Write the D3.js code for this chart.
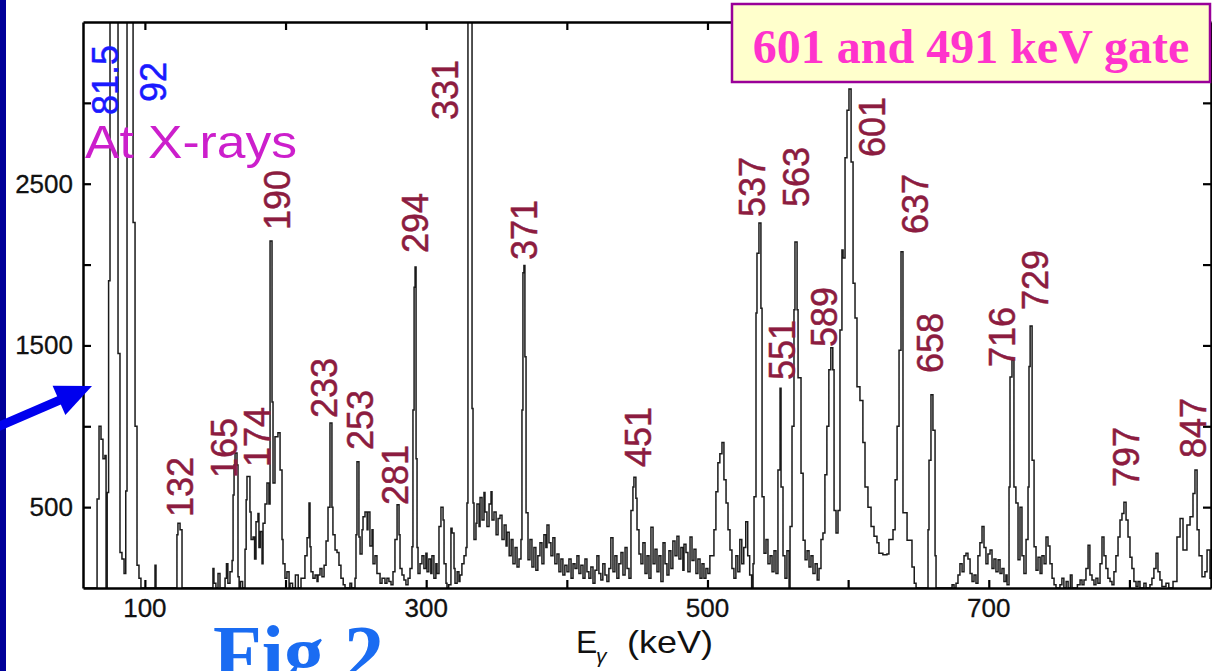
<!DOCTYPE html>
<html>
<head>
<meta charset="utf-8">
<script src="https://cdn.jsdelivr.net/npm/d3@7/dist/d3.min.js"></script>
<style>
  body { margin: 0; background: #fff; }
  svg { display: block; }
</style>
</head>
<body>
<svg></svg>
<script>
// gated gamma spectrum as [energy keV, counts] step points
var spectrum = [
  [56,0],[66,550],[67.4,1000],[68.8,920],[70.2,800],[71.6,820],[72.4,0],[73.2,590],[74.2,1900],
  [75.2,5200],[80.9,1450],[82.3,220],[83.7,180],[85.2,90],[86.4,600],[87.3,4800],[91.6,2260],
  [93.0,1000],[94.4,140],[95.8,60],[97.2,0],[107.2,140],[107.9,0],[122.8,330],[123.5,400],
  [125.0,360],[126.4,0],[148.4,120],[149.1,30],[150.5,0],[152.0,90],[153.4,0],[157,60],[158,150],
  [159,30],[160.5,100],[162,170],[162.7,575],[163.4,760],[164.1,835],[165.5,760],[166.2,70],
  [167,0],[168,40],[169.5,0],[171.2,240],[172,545],[172.6,690],[174.7,470],[175.5,300],
  [176.9,315],[178,180],[179,410],[180.4,460],[181.1,250],[182,350],[183.3,150],[184,400],
  [185.4,520],[186.8,650],[188.2,520],[189.0,2145],[190.4,1150],[191.1,650],[192.5,935],
  [194.6,960],[196.1,730],[197.5,300],[198.2,150],[199.6,60],[201,100],[202.5,0],[203.2,30],
  [205,0],[207,80],[209,0],[211,60],[213.8,200],[215.3,310],[216.7,525],[217.4,255],[218.1,100],
  [219.5,60],[221,80],[222.4,40],[223.1,80],[224.5,120],[225.9,70],[227.4,140],[228.8,290],
  [230.2,500],[231.6,1020],[233.0,500],[233.7,330],[235.2,235],[236.6,220],[238,140],[239.4,60],
  [241,20],[242.3,0],[245.8,30],[247,0],[249.4,60],[250.1,330],[250.8,780],[252.2,315],
  [253.0,210],[254.4,360],[255.1,440],[256.5,470],[258.0,360],[258.6,470],[260,260],[261.5,360],
  [262.2,150],[263.6,200],[265,90],[267.2,30],[268.6,60],[270.7,30],[272.1,60],[273.5,40],
  [275,20],[276.4,100],[277.8,300],[279.3,515],[280.7,330],[281.4,120],[282.8,80],[284.2,50],
  [285.6,20],[287.1,60],[288.5,120],[289.9,255],[290.6,1100],[291.4,1860],[292.1,1985],
  [292.8,800],[293.5,250],[294.2,90],[295.6,150],[297.0,200],[298.4,120],[299.8,215],[300.6,100],
  [301.9,180],[303.3,90],[304.1,200],[305.5,60],[306.9,150],[307.7,90],[309.1,380],[310.5,500],
  [312.0,420],[312.7,150],[314.1,30],[314.8,0],[316,20],[317.6,370],[318.4,340],[319.8,120],
  [320.5,30],[322,100],[323.3,40],[324,80],[325.4,150],[326.9,200],[328.3,250],[329.0,525],
  [329.7,6000],[332.6,1110],[333.3,525],[334,300],[335.4,400],[336.1,520],[337.6,380],
  [338.3,560],[339.7,420],[341.1,590],[341.8,470],[343.2,380],[344.7,520],[346.1,595],
  [346.8,420],[348.2,470],[349.7,330],[351.1,430],[352.5,450],[353.9,300],[355.4,390],
  [356.8,260],[357.5,345],[359,200],[360.4,300],[361.7,150],[363.2,250],[364.6,130],[366,180],
  [367.4,300],[368.1,1100],[368.8,1950],[369.5,1995],[370.2,1430],[371,465],[372.4,175],
  [373.8,300],[375.2,130],[376.6,250],[378,110],[379.4,200],[380.9,280],[382.3,150],[383.7,330],
  [385.1,250],[385.9,390],[387.3,280],[388.7,200],[390.1,310],[391.5,150],[393.0,210],
  [394.4,100],[395.8,180],[397.2,80],[398.6,140],[400.1,100],[401.5,180],[403,60],[404.4,150],
  [405.8,120],[407.2,200],[408.6,90],[410,140],[411.5,60],[412.9,180],[414.3,100],[415.7,60],
  [417.1,130],[418.6,30],[420,110],[421.4,200],[422.8,90],[424.2,50],[425.6,150],[427.1,80],
  [428.5,40],[429.9,120],[431.3,310],[432.8,100],[434.2,200],[435.6,60],[437,150],[438.5,220],
  [439.9,80],[441.4,250],[442.8,120],[444.2,60],[445.6,480],[447.0,625],[447.7,685],[449.1,555],
  [449.9,360],[451.3,210],[452.7,150],[454.1,280],[455.6,90],[457,200],[458.4,60],[459.8,375],
  [461.3,150],[462.7,240],[464.1,100],[465.5,200],[466.9,40],[468.4,280],[469.8,150],[471.2,80],
  [472.6,230],[474,120],[475.4,290],[476.9,200],[478.3,320],[479.7,180],[481.1,250],[482.5,110],
  [483.3,270],[484.7,220],[486.1,100],[487.6,315],[489,170],[490.4,240],[491.8,90],[493.2,180],
  [494.7,60],[496.1,150],[497.5,60],[498.9,120],[500.3,90],[501.7,200],[503.2,200],[504.6,360],
  [506,595],[507.4,775],[508.8,830],[510.3,900],[511.7,670],[513.2,525],[514.6,360],[516,235],
  [517.4,120],[518.8,60],[520.2,200],[521.6,100],[523,300],[524.4,150],[525.8,250],[527.2,410],
  [528.6,200],[530,80],[531.4,0],[532.4,150],[533.1,565],[534.5,1700],[535.2,2070],[536.6,2257],
  [538.0,1730],[538.8,565],[540.2,215],[541.6,300],[543,150],[544.5,200],[545.9,100],[547.3,230],
  [548.7,90],[550.1,730],[551.6,1235],[552.3,625],[553.7,200],[555.1,60],[556.5,230],[558,0],
  [558.7,380],[560.1,1000],[561.5,1720],[562.2,2140],[563.7,1720],[564.4,1300],[566.5,710],
  [568,295],[569.4,175],[570.8,230],[572.2,130],[573.6,200],[575,90],[576.5,150],[578,50],
  [579.3,120],[580.7,300],[582.1,340],[583.5,700],[584.9,1000],[586.3,1350],[587.7,1485],
  [589.1,1350],[590,480],[591.4,340],[592.8,480],[594.2,1595],[595.6,2090],[596.4,2040],
  [597.8,2660],[599.2,2955],[600.6,3085],[602.1,2635],[603.5,1885],[604.9,1670],[606.3,1245],
  [608.4,1160],[610.5,900],[612,625],[614.1,500],[616.3,380],[618.4,320],[620.5,280],[621.9,215],
  [624.7,205],[627.6,210],[629,300],[631.9,360],[633.4,670],[634.8,1000],[636.2,1470],
  [637.6,2080],[639.0,465],[641.9,295],[645.4,130],[647,30],[648.3,0],[656.8,360],[657.5,790],
  [658.9,1195],[660.3,975],[661.8,200],[662.5,0],[673.9,20],[675.3,0],[676.7,30],[678.1,80],
  [679.5,150],[681,100],[682.4,200],[683.8,215],[685.2,180],[686.7,90],[688.1,40],[689.5,80],
  [690.9,30],[692.3,200],[693.7,280],[695.2,380],[696.6,250],[698,150],[699.4,210],[700.9,235],
  [702.3,120],[703.7,180],[705.1,100],[706.6,175],[708,90],[709.4,120],[710.8,40],[712.2,80],
  [713.0,20],[714.4,625],[715.1,1305],[716.5,1410],[717.9,625],[719.3,525],[720.8,175],
  [722.2,500],[723.6,200],[725,90],[726.5,300],[727.9,625],[728.6,1370],[729.4,1620],[730.8,790],
  [732.2,255],[733.6,110],[735,190],[736.5,90],[737.8,200],[739.3,150],[740.7,315],[742.1,260],
  [743.5,150],[745,60],[746.4,20],[747.8,0],[750.6,20],[752,60],[753.4,0],[755,40],[756.4,0],
  [758,80],[759.2,0],[763,20],[764.9,50],[766.3,20],[767.7,50],[769.1,120],[770.6,265],
  [771.9,80],[773.4,50],[774.8,20],[776.2,60],[777.6,30],[779.1,150],[780.5,315],[781.9,200],
  [783.3,120],[784.7,60],[786.2,40],[787.6,20],[789,100],[790.4,200],[791.9,315],[793.3,420],
  [794.7,460],[796.1,530],[797.6,420],[799,315],[800.4,190],[801.8,120],[803.2,40],[804.7,10],
  [806.1,40],[807.5,0],[810.3,30],[811.8,0],[814.6,20],[816,60],[817.4,120],[818.9,215],
  [820.3,100],[821.7,50],[823.1,10],[826,30],[828,0],[831,40],[833.8,315],[836,430],[838.1,235],
  [840.9,390],[843.1,440],[845.2,585],[846.6,730],[848.1,360],[849.5,200],[851.6,70],
  [853.7,100],[855.2,235],[857.3,60],[858,60]
];

var xTickValues = [100, 200, 300, 400, 500, 600, 700, 800];
var xTickLabels = [100, 300, 500, 700];
var yTickValues = [500, 1000, 1500, 2000, 2500, 3000];
var yTickLabels = [500, 1500, 2500];

// peak labels: text, anchor energy, anchor counts (bottom of rotated text)
var peakNames  = ["81.5","92","132","165","174","190","233","253","281","294","331","371",
                  "451","537","551","563","589","601","637","658","716","729","797","847"];
var peakAnchorE = [80.9,115.0,134.2,165.5,189.0,203.2,236.6,262.2,287.1,301.3,322.6,378.8,
                   459.8,540.9,562.2,572.2,592.1,626.2,656.8,667.5,718.7,742.1,806.8,854.8];
var peakAnchorC = [2925,3005,439,680,748,2214,1051,853,513,2072,2894,2028,
                   748,2294,1286,2356,1490,2665,2189,1330,1367,1719,625,804];
var xrayNames = ["81.5", "92"];

var W = 1212, H = 671;
var svg = d3.select("svg").attr("width", W).attr("height", H);

var plot = {left: 83, right: 1211, top: 22, bottom: 588};

var x = d3.scaleLinear().domain([56, 858]).range([plot.left, plot.right]);
var y = d3.scaleLinear().domain([0, 3500]).range([plot.bottom, plot.top]);

svg.append("rect").attr("width", W).attr("height", H).attr("fill", "#fff");

// slide strip on the left
svg.append("rect").attr("x", 0).attr("y", 0).attr("width", 6).attr("height", H).attr("fill", "#000099");

svg.append("clipPath").attr("id", "plotclip")
  .append("rect")
  .attr("x", plot.left).attr("y", plot.top)
  .attr("width", plot.right - plot.left).attr("height", plot.bottom - plot.top);

var line = d3.line()
  .x(d => x(d[0]))
  .y(d => y(d[1]))
  .curve(d3.curveStepAfter);

svg.append("path")
  .datum(spectrum)
  .attr("clip-path", "url(#plotclip)")
  .attr("d", line)
  .attr("fill", "none")
  .attr("stroke", "#1a1a1a")
  .attr("stroke-width", 1.5);

// axes, ticks inward
var tickLen = 8;
var axisFont = "'Liberation Sans', Arial, sans-serif";

svg.append("g")
  .attr("transform", "translate(0," + plot.bottom + ")")
  .call(d3.axisBottom(x).tickValues(xTickValues).tickSizeInner(-tickLen).tickSizeOuter(0).tickFormat(""))
  .call(g => g.select(".domain").attr("stroke", "#000").attr("stroke-width", 2.5));

svg.append("g")
  .attr("transform", "translate(0," + plot.top + ")")
  .call(d3.axisTop(x).tickValues(xTickValues).tickSizeInner(-tickLen).tickSizeOuter(0).tickFormat(""))
  .call(g => g.select(".domain").attr("stroke", "#000").attr("stroke-width", 2.5));

svg.append("g")
  .attr("transform", "translate(" + plot.left + ",0)")
  .call(d3.axisLeft(y).tickValues(yTickValues).tickSizeInner(-tickLen).tickSizeOuter(0).tickFormat(""))
  .call(g => g.select(".domain").attr("stroke", "#000").attr("stroke-width", 2.5));

svg.append("g")
  .attr("transform", "translate(" + plot.right + ",0)")
  .call(d3.axisRight(y).tickValues(yTickValues).tickSizeInner(-tickLen).tickSizeOuter(0).tickFormat(""))
  .call(g => g.select(".domain").attr("stroke", "#000").attr("stroke-width", 2.5));

svg.selectAll(".tick line").attr("stroke", "#000").attr("stroke-width", 2.2);

svg.selectAll(".xlab")
  .data(xTickLabels)
  .enter().append("text")
  .attr("class", "xlab")
  .attr("x", d => x(d))
  .attr("y", 617)
  .attr("text-anchor", "middle")
  .attr("font-family", axisFont)
  .attr("font-size", 26)
  .attr("fill", "#111")
  .attr("stroke", "#111")
  .attr("stroke-width", 0.3)
  .text(d => d);

svg.selectAll(".ylab")
  .data(yTickLabels)
  .enter().append("text")
  .attr("class", "ylab")
  .attr("x", 73)
  .attr("y", d => y(d) + 9)
  .attr("text-anchor", "end")
  .attr("font-family", axisFont)
  .attr("font-size", 26)
  .attr("fill", "#111")
  .attr("stroke", "#111")
  .attr("stroke-width", 0.3)
  .text(d => d);

// axis title E_gamma (keV)
var title = svg.append("text")
  .attr("font-family", axisFont)
  .attr("fill", "#111");
title.append("tspan").attr("x", 576).attr("y", 653).attr("font-size", 32).text("E");
title.append("tspan").attr("x", 596).attr("y", 663).attr("font-size", 21).attr("font-style", "italic").text("γ");
title.append("tspan").attr("x", 627).attr("y", 653).attr("font-size", 32)
  .attr("textLength", 86).attr("lengthAdjust", "spacingAndGlyphs").text("(keV)");

// peak labels, rotated
svg.selectAll(".peak")
  .data(peakNames)
  .enter().append("text")
  .attr("class", "peak")
  .attr("transform", (d, i) => "translate(" + x(peakAnchorE[i]) + "," + y(peakAnchorC[i]) + ") rotate(-90)")
  .attr("font-family", axisFont)
  .attr("font-size", 36)
  .attr("fill", d => xrayNames.indexOf(d) >= 0 ? "#1a1aff" : "#8c1c40")
  .attr("stroke", d => xrayNames.indexOf(d) >= 0 ? "#1a1aff" : "#8c1c40")
  .attr("stroke-width", 0.5)
  .text(d => d);

svg.append("text")
  .attr("x", 85)
  .attr("y", 158)
  .attr("font-family", axisFont)
  .attr("font-size", 46)
  .attr("textLength", 212)
  .attr("lengthAdjust", "spacingAndGlyphs")
  .attr("fill", "#cc1fcc")
  .text("At X-rays");

// gate box
svg.append("rect")
  .attr("x", 732).attr("y", 4)
  .attr("width", 478).attr("height", 78)
  .attr("fill", "#ffffcc")
  .attr("stroke", "#990099")
  .attr("stroke-width", 2.5);

svg.append("text")
  .attr("x", 971)
  .attr("y", 63)
  .attr("text-anchor", "middle")
  .attr("font-family", "'Liberation Serif', 'Times New Roman', serif")
  .attr("font-weight", "bold")
  .attr("font-size", 48)
  .attr("fill", "#ff33cc")
  .text("601 and 491 keV gate");

// arrow pointing at the axis
var tail = [0, 426], tip = [92, 386];
var dx = tip[0] - tail[0], dy = tip[1] - tail[1];
var len = Math.sqrt(dx * dx + dy * dy);
var ux = dx / len, uy = dy / len;
var headL = 36, headW = 16;
var bx = tip[0] - ux * headL, by = tip[1] - uy * headL;

svg.append("line")
  .attr("x1", tail[0] - 5).attr("y1", tail[1] + 2)
  .attr("x2", bx + ux * 2).attr("y2", by + uy * 2)
  .attr("stroke", "#0000ee")
  .attr("stroke-width", 9);

svg.append("polygon")
  .attr("points", [
    tip,
    [bx - uy * headW, by + ux * headW],
    [bx + uy * headW, by - ux * headW]
  ].map(p => p.join(",")).join(" "))
  .attr("fill", "#0000ee");

svg.append("text")
  .attr("x", 213)
  .attr("y", 681)
  .attr("font-family", "'Liberation Serif', 'Times New Roman', serif")
  .attr("font-weight", "bold")
  .attr("font-size", 80)
  .attr("fill", "#1a6cf2")
  .text("Fig 2");
</script>
</body>
</html>
